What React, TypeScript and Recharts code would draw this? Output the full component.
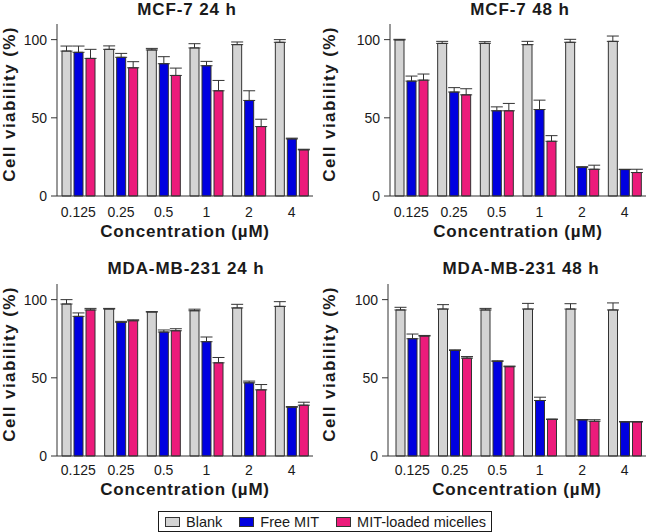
import { Bar, BarChart, ErrorBar, XAxis, YAxis } from 'recharts'

const CONCENTRATIONS = ['0.125', '0.25', '0.5', '1', '2', '4']

// MCF-7, 24 h
const mcf7H24Blank = [92.7, 93.8, 93.4, 94.7, 96.8, 98.3]
const mcf7H24BlankErr = [3.2, 2.2, 1.0, 2.7, 1.7, 1.7]
const mcf7H24Free = [91.9, 88.7, 84.6, 83.3, 61.1, 36.5]
const mcf7H24FreeErr = [4.0, 2.5, 4.5, 2.8, 6.2, 0.5]
const mcf7H24Micelle = [88.0, 82.0, 77.1, 67.3, 44.4, 29.5]
const mcf7H24MicelleErr = [5.8, 3.9, 4.7, 6.6, 4.7, 0.4]

// MCF-7, 48 h
const mcf7H48Blank = [99.8, 97.6, 97.6, 96.8, 98.3, 98.9]
const mcf7H48BlankErr = [0.4, 1.3, 1.1, 2.1, 1.9, 3.4]
const mcf7H48Free = [73.5, 66.5, 54.5, 55.3, 18.4, 16.9]
const mcf7H48FreeErr = [3.2, 2.8, 2.5, 6.0, 0.3, 0.2]
const mcf7H48Micelle = [74.1, 64.7, 54.5, 35.0, 17.1, 15.0]
const mcf7H48MicelleErr = [3.9, 3.9, 4.7, 3.6, 2.6, 2.1]

// MDA-MB-231, 24 h
const mdaH24Blank = [97.2, 94.0, 92.1, 92.9, 94.7, 95.7]
const mdaH24BlankErr = [2.8, 0.4, 0.2, 1.0, 2.3, 3.0]
const mdaH24Free = [89.3, 85.5, 79.3, 73.1, 46.8, 31.2]
const mdaH24FreeErr = [2.2, 0.6, 1.3, 3.0, 1.1, 0.4]
const mdaH24Micelle = [93.4, 86.5, 80.1, 59.6, 42.3, 32.5]
const mdaH24MicelleErr = [1.0, 0.6, 1.3, 3.4, 3.4, 1.9]

// MDA-MB-231, 48 h
const mdaH48Blank = [93.4, 94.0, 93.4, 94.0, 94.0, 93.4]
const mdaH48BlankErr = [1.7, 2.8, 1.0, 3.6, 3.4, 4.5]
const mdaH48Free = [75.0, 67.5, 60.5, 35.5, 23.1, 21.8]
const mdaH48FreeErr = [3.0, 0.4, 0.4, 2.1, 0.2, 0.2]
const mdaH48Micelle = [76.7, 62.6, 57.1, 23.5, 22.2, 21.8]
const mdaH48MicelleErr = [0.4, 1.0, 0.4, 0.0, 1.0, 0.2]

const Y_TICKS = [0, 50, 100]

const SERIES = [
  { key: 'blank', name: 'Blank', fill: '#d4d4d4' },
  { key: 'free', name: 'Free MIT', fill: '#0000e0' },
  { key: 'micelle', name: 'MIT-loaded micelles', fill: '#ec1b7b' },
]

const INK = '#1a1a1a'
const EDGE = '#333333'
const FONT = '"Liberation Sans", Arial, Helvetica, sans-serif'

interface PanelDef {
  title: string
  blank: number[]
  blankErr: number[]
  free: number[]
  freeErr: number[]
  micelle: number[]
  micelleErr: number[]
  left: number
  top: number
  width: number
  yAxisWidth: number
  right: number
  padLeft: number
  titleX: number
  titleTop: number
  tickGap: number
  xTitleGap: number
}

const PANELS: PanelDef[] = [
  {
    title: 'MCF-7 24 h',
    blank: mcf7H24Blank, blankErr: mcf7H24BlankErr,
    free: mcf7H24Free, freeErr: mcf7H24FreeErr,
    micelle: mcf7H24Micelle, micelleErr: mcf7H24MicelleErr,
    left: 0, top: 0, width: 325, yAxisWidth: 57, right: 12, padLeft: 0,
    titleX: 187, titleTop: 0.6, tickGap: 5, xTitleGap: 40.5,
  },
  {
    title: 'MCF-7 48 h',
    blank: mcf7H48Blank, blankErr: mcf7H48BlankErr,
    free: mcf7H48Free, freeErr: mcf7H48FreeErr,
    micelle: mcf7H48Micelle, micelleErr: mcf7H48MicelleErr,
    left: 320, top: 0, width: 331, yAxisWidth: 70, right: 5, padLeft: 0,
    titleX: 520, titleTop: 0.6, tickGap: 5, xTitleGap: 40.5,
  },
  {
    title: 'MDA-MB-231 24 h',
    blank: mdaH24Blank, blankErr: mdaH24BlankErr,
    free: mdaH24Free, freeErr: mdaH24FreeErr,
    micelle: mdaH24Micelle, micelleErr: mdaH24MicelleErr,
    left: 0, top: 260, width: 325, yAxisWidth: 57, right: 12, padLeft: 0,
    titleX: 186, titleTop: 260.3, tickGap: 3.5, xTitleGap: 38.5,
  },
  {
    title: 'MDA-MB-231 48 h',
    blank: mdaH48Blank, blankErr: mdaH48BlankErr,
    free: mdaH48Free, freeErr: mdaH48FreeErr,
    micelle: mdaH48Micelle, micelleErr: mdaH48MicelleErr,
    left: 320, top: 260, width: 331, yAxisWidth: 68, right: 5, padLeft: 3,
    titleX: 521, titleTop: 260.3, tickGap: 3.5, xTitleGap: 38.5,
  },
]

function buildRows(p: PanelDef) {
  return CONCENTRATIONS.map((conc, i) => ({
    conc,
    blank: p.blank[i],
    blankErr: [0, p.blankErr[i]],
    free: p.free[i],
    freeErr: [0, p.freeErr[i]],
    micelle: p.micelle[i],
    micelleErr: [0, p.micelleErr[i]],
  }))
}

function XTitle({ viewBox, gap }: any) {
  if (!viewBox) return null
  return (
    <text
      x={viewBox.x + viewBox.width / 2}
      y={viewBox.y + gap}
      textAnchor="middle"
      fill={INK}
      fontSize={17}
      fontWeight={700}
      fontFamily={FONT}
      letterSpacing={0.8}
    >
      Concentration (µM)
    </text>
  )
}

function YTitle({ viewBox }: any) {
  if (!viewBox) return null
  return (
    <text
      transform={`translate(${viewBox.x + 15}, ${viewBox.y + 80}) rotate(-90)`}
      textAnchor="middle"
      fill={INK}
      fontSize={17}
      fontWeight={700}
      fontFamily={FONT}
      letterSpacing={1.4}
    >
      Cell viability (%)
    </text>
  )
}

function Panel({ p }: { p: PanelDef }) {
  const rows = buildRows(p)
  return (
    <>
      <div
        style={{
          position: 'absolute',
          left: p.titleX - 150,
          top: p.titleTop,
          width: 300,
          textAlign: 'center',
          fontSize: 17,
          lineHeight: '17px',
          fontWeight: 700,
          letterSpacing: 0.9,
          color: INK,
          whiteSpace: 'nowrap',
        }}
      >
        {p.title}
      </div>
      <div style={{ position: 'absolute', left: p.left, top: p.top }}>
        <BarChart
          width={p.width}
          height={250}
          data={rows}
          margin={{ top: 24, right: p.right, bottom: 0, left: 0 }}
          barSize={9}
          barGap={3}
        >
          <XAxis
            dataKey="conc"
            height={54}
            interval={0}
            tickLine={false}
            axisLine={{ stroke: EDGE }}
            tickSize={6}
            tickMargin={p.tickGap}
            tick={{ fontSize: 14, fill: INK, fontFamily: FONT }}
            padding={{ left: p.padLeft, right: 0 }}
            label={{ content: (lp: any) => <XTitle viewBox={lp.viewBox} gap={p.xTitleGap} /> }}
          />
          <YAxis
            domain={[0, 110]}
            ticks={Y_TICKS}
            width={p.yAxisWidth}
            tickSize={6}
            tickMargin={4}
            axisLine={{ stroke: EDGE }}
            tickLine={{ stroke: EDGE }}
            tick={{ fontSize: 14, fill: INK, fontFamily: FONT }}
            label={{ content: (lp: any) => <YTitle viewBox={lp.viewBox} /> }}
          />
          {SERIES.map((s) => (
            <Bar
              key={s.key}
              dataKey={s.key}
              name={s.name}
              fill={s.fill}
              stroke={EDGE}
              strokeWidth={1}
              isAnimationActive={false}
            >
              <ErrorBar dataKey={`${s.key}Err`} width={6} stroke={EDGE} strokeWidth={1} direction="y" />
            </Bar>
          ))}
        </BarChart>
      </div>
    </>
  )
}

function Legend() {
  return (
    <div
      style={{
        position: 'absolute',
        left: 158,
        top: 511,
        width: 326,
        height: 19,
        border: `1px solid ${INK}`,
        display: 'flex',
        alignItems: 'center',
        paddingLeft: 6,
        boxSizing: 'content-box',
        fontSize: 14.5,
        color: INK,
      }}
    >
      {SERIES.map((s, i) => (
        <div key={s.key} style={{ display: 'flex', alignItems: 'center', marginLeft: i === 0 ? 0 : 17 }}>
          <span
            style={{
              display: 'inline-block',
              width: 13,
              height: 8,
              background: s.fill,
              border: `1px solid ${EDGE}`,
              marginRight: 6,
            }}
          />
          <span style={{ lineHeight: '16px' }}>{s.name}</span>
        </div>
      ))}
    </div>
  )
}

export default function App() {
  return (
    <div
      style={{
        position: 'absolute',
        left: 0,
        top: 0,
        width: 651,
        height: 532,
        background: '#ffffff',
        fontFamily: FONT,
        overflow: 'hidden',
      }}
    >
      {PANELS.map((p) => (
        <Panel key={p.title} p={p} />
      ))}
      <Legend />
    </div>
  )
}
